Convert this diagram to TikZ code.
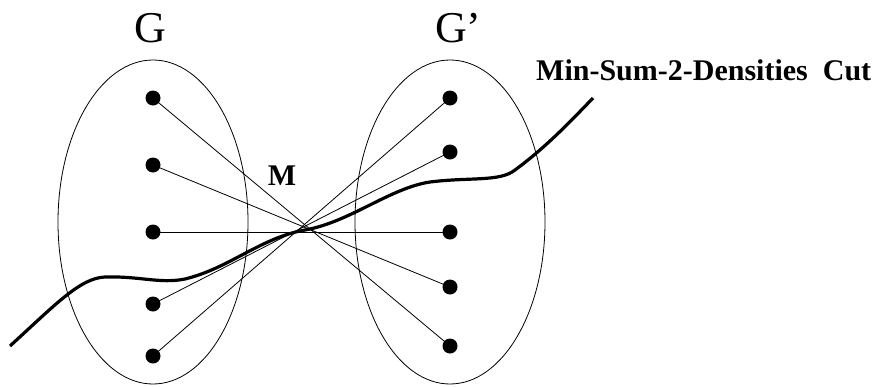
\documentclass[tikz,border=0pt]{standalone}
\usepackage{fontspec}
\setmainfont{Liberation Serif}
\usetikzlibrary{shapes.geometric}
\begin{document}
\begin{tikzpicture}[x=1pt,y=-1pt,
  dot/.style={circle,fill=black,inner sep=0pt,minimum size=15pt},
  setshape/.style={ellipse,draw,line width=0.8pt,inner sep=0pt,minimum width=190pt,minimum height=324pt},
  edge/.style={line width=0.8pt},
  cut/.style={line width=3.2pt},
  biglabel/.style={inner sep=0pt,font=\fontsize{44}{44}\selectfont},
  boldlabel/.style={inner sep=0pt,font=\fontsize{30}{30}\selectfont\bfseries}]
\useasboundingbox (0,0) rectangle (879,386);
\node[setshape] (GL) at (153,222) {};
\node[setshape] (GR) at (450,222) {};
\node[dot] (l1) at (153,98) {};
\node[dot] (l2) at (153,165) {};
\node[dot] (l3) at (153,232) {};
\node[dot] (l4) at (153,304) {};
\node[dot] (l5) at (153,356) {};
\node[dot] (r1) at (450,98) {};
\node[dot] (r2) at (450,152) {};
\node[dot] (r3) at (450,232) {};
\node[dot] (r4) at (450,287) {};
\node[dot] (r5) at (450,346) {};
\draw[edge] (l1.center) -- (r5.center);
\draw[edge] (l2.center) -- (r4.center);
\draw[edge] (l3.center) -- (r3.center);
\draw[edge] (l4.center) -- (r2.center);
\draw[edge] (l5.center) -- (r1.center);
\coordinate (c0) at (10,346);
\coordinate (c1) at (593,98);
\draw[cut] (c0) .. controls (55,305) and (80,278) .. (105,277)
  .. controls (140,276) and (160,284) .. (185,279)
  .. controls (230,268) and (260,238) .. (305,230)
  .. controls (350,222) and (390,188) .. (430,182)
  .. controls (470,177) and (500,182) .. (515,170)
  .. controls (545,148) and (570,122) .. (c1);
\node[biglabel,anchor=base] (tG) at (150,42) {G};
\node[biglabel,anchor=base west] (tG2) at (435,42) {G’};
\node[boldlabel,anchor=base] (tM) at (282,185) {M};
\node[boldlabel,anchor=base west] (tcut) at (536,80) {Min-Sum-2-Densities\ \ Cut};
\end{tikzpicture}
\end{document}
